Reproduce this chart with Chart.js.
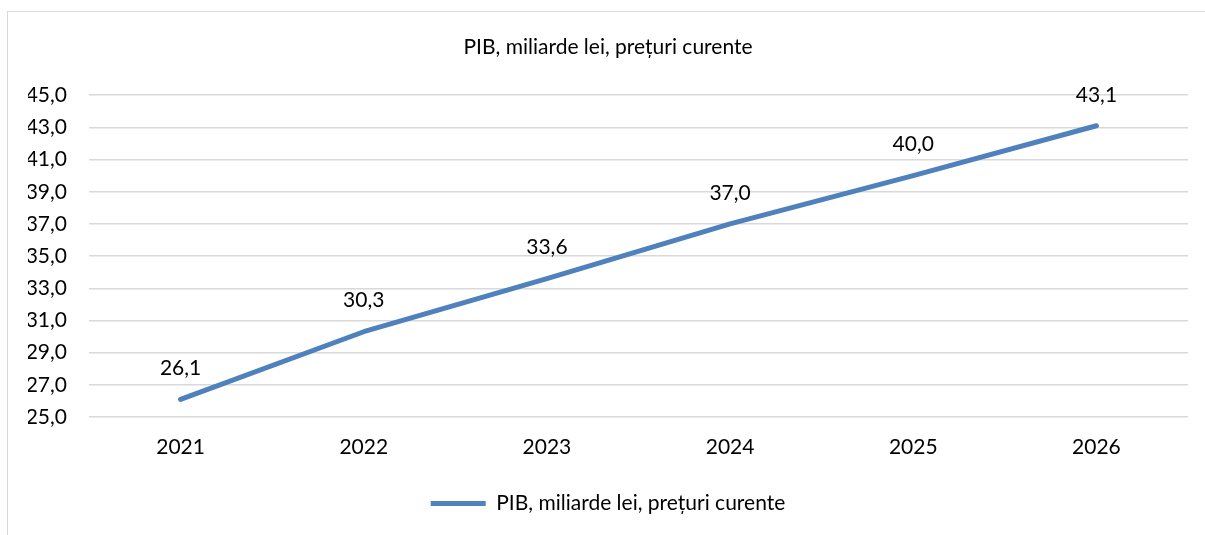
<!DOCTYPE html>
<html>
<head>
<meta charset="utf-8">
<script src="https://cdn.jsdelivr.net/npm/chart.js@4"></script>
<style>
  html, body { margin: 0; padding: 0; background: #fff; overflow: hidden; }
  #wrap { position: relative; width: 1205px; height: 535px; }
  #frame {
    position: absolute; left: 7px; top: 11px; width: 1220px; height: 540px;
    border-left: 1.5px solid #d9d9d9; border-top: 1.5px solid #d9d9d9;
  }
  canvas { position: absolute; left: 0; top: 0; }
</style>
</head>
<body>
<div id="wrap">
  <div id="frame"></div>
  <canvas id="pib-chart" width="1205" height="535"></canvas>
</div>
<script>
const years = ["2021", "2022", "2023", "2024", "2025", "2026"];
const pibValues = [26.1, 30.3, 33.6, 37.0, 40.0, 43.1];
const seriesName = "PIB, miliarde lei, prețuri curente";
const yMin = 25, yMax = 45, yStep = 2;

const FONT = "Lato";
const FONT_SIZE = 21;
const fmt = v => v.toFixed(1).replace(".", ",");

// etichetele cu valori deasupra fiecărui punct
const valueLabels = {
  id: "valueLabels",
  afterDatasetsDraw(chart) {
    const ctx = chart.ctx;
    const meta = chart.getDatasetMeta(0);
    ctx.save();
    ctx.font = FONT_SIZE + "px " + FONT;
    ctx.fillStyle = "#000";
    ctx.textAlign = "center";
    ctx.textBaseline = "middle";
    meta.data.forEach((pt, i) => {
      ctx.fillText(fmt(pibValues[i]), pt.x, pt.y - 31);
    });
    ctx.restore();
  }
};

const ctx = document.getElementById("pib-chart").getContext("2d");
new Chart(ctx, {
  type: "line",
  data: {
    labels: years,
    datasets: [{
      label: seriesName,
      data: pibValues,
      borderColor: "#4f81bd",
      backgroundColor: "#4f81bd",
      borderWidth: 5,
      borderCapStyle: "round",
      borderJoinStyle: "round",
      pointRadius: 0,
      tension: 0,
      fill: false
    }]
  },
  options: {
    responsive: false,
    devicePixelRatio: 1,
    animation: false,
    layout: { padding: { left: 28, right: 17, top: 0, bottom: 11 } },
    plugins: {
      title: {
        display: true,
        text: seriesName,
        color: "#000",
        font: { family: FONT, size: FONT_SIZE, weight: "normal" },
        padding: { top: 35, bottom: 35 }
      },
      legend: {
        position: "bottom",
        labels: {
          color: "#000",
          font: { family: FONT, size: FONT_SIZE },
          boxWidth: 55,
          boxHeight: 5,
          padding: 2,
          generateLabels(chart) {
            const ds = chart.data.datasets[0];
            return [{
              text: ds.label,
              fillStyle: ds.borderColor,
              strokeStyle: ds.borderColor,
              lineWidth: 0,
              datasetIndex: 0
            }];
          }
        }
      },
      tooltip: { enabled: false }
    },
    scales: {
      x: {
        offset: true,
        grid: { display: false },
        border: { display: false },
        ticks: { color: "#000", font: { family: FONT, size: FONT_SIZE }, padding: 10 },
        afterFit(scale) { scale.height = 74; }
      },
      y: {
        min: yMin,
        max: yMax,
        grid: { color: "#d9d9d9", lineWidth: 1.5, drawTicks: false },
        border: { display: false },
        ticks: {
          stepSize: yStep,
          color: "#000",
          font: { family: FONT, size: FONT_SIZE },
          padding: 22,
          callback: v => fmt(v)
        },
        afterFit(scale) { scale.width = 61; }
      }
    }
  },
  plugins: [valueLabels]
});
</script>
</body>
</html>
